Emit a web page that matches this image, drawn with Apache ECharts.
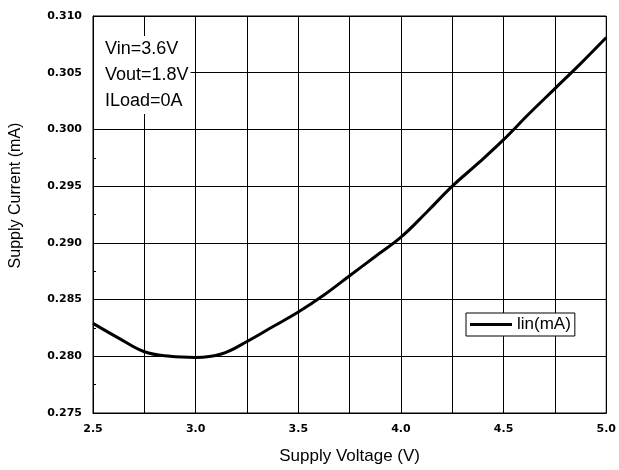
<!DOCTYPE html>
<html><head><meta charset="utf-8">
<script src="https://cdn.jsdelivr.net/npm/echarts@6/dist/echarts.min.js"></script>
<style>html,body{margin:0;padding:0;background:#fff}#c{width:619px;height:470px}</style>
</head><body><div id="c"></div>
<script>
const voltages = [2.5, 2.625, 2.75, 2.875, 3.0, 3.125, 3.25, 3.375, 3.5, 3.625, 3.75, 3.875, 4.0, 4.125, 4.25, 4.375, 4.5, 4.625, 4.75, 4.875, 5.0];
const currents = [0.2829, 0.2816, 0.2804, 0.2800, 0.2799, 0.2802, 0.2813, 0.2826, 0.2839, 0.2854, 0.2871, 0.2888, 0.2905, 0.2927, 0.2950, 0.2970, 0.2991, 0.3014, 0.3036, 0.3058, 0.3081];
const seriesName = 'lin(mA)';
const notes = ['Vin=3.6V', 'Vout=1.8V', 'ILoad=0A'];
const xTitle = 'Supply Voltage (V)';
const yTitle = 'Supply Current (mA)';

const font = 'Liberation Sans, Arial, sans-serif';
const tickFont = 'DejaVu Sans, sans-serif';
const chart = echarts.init(document.getElementById('c'), null, {renderer: 'canvas'});
chart.setOption({
  animation: false,
  backgroundColor: '#fff',
  grid: {left: 93, right: 10, top: 16, bottom: 57, show: true, borderColor: '#000', borderWidth: 1},
  legend: {
    data: [{name: seriesName, icon: 'rect'}],
    left: 466, top: 313,
    itemWidth: 42, itemHeight: 3, itemGap: 4,
    borderColor: '#000', borderWidth: 1, borderRadius: 0,
    backgroundColor: '#fff', padding: [3, 4, 3, 4],
    textStyle: {fontFamily: font, fontSize: 17, color: '#000'}
  },
  xAxis: {
    type: 'value', min: 2.5, max: 5.0, interval: 0.25,
    name: xTitle, nameLocation: 'middle', nameGap: 35,
    nameTextStyle: {fontFamily: font, fontSize: 17, color: '#000'},
    axisLine: {show: true, lineStyle: {color: '#000'}},
    axisTick: {show: false},
    splitLine: {show: true, lineStyle: {color: '#000', width: 1}},
    axisLabel: {
      fontFamily: tickFont, fontSize: 11, fontWeight: 'bold', color: '#000', margin: 11,
      formatter: v => (Math.abs(v * 2 - Math.round(v * 2)) < 1e-6 ? v.toFixed(1) : '')
    }
  },
  yAxis: {
    type: 'value', min: 0.275, max: 0.310, interval: 0.005,
    name: yTitle, nameLocation: 'middle', nameGap: 69,
    nameTextStyle: {fontFamily: font, fontSize: 16, color: '#000', padding: [0, 0, 0, 38]},
    axisLine: {show: true, lineStyle: {color: '#000'}},
    axisTick: {show: true, inside: true, length: 3, lineStyle: {color: '#000'}},
    minorTick: {show: true, splitNumber: 2, length: 3, lineStyle: {color: '#000'}},
    splitLine: {show: true, lineStyle: {color: '#000', width: 1}},
    axisLabel: {fontFamily: tickFont, fontSize: 11, fontWeight: 'bold', color: '#000', margin: 11, formatter: v => v.toFixed(3)}
  },
  graphic: [{
    type: 'text', left: 94, top: 36, z: 100,
    style: {
      text: notes.join('\n'), fontFamily: font, fontSize: 18, lineHeight: 26,
      fill: '#000', backgroundColor: '#fff', padding: [0, 2, 0, 11]
    }
  }],
  series: [{
    name: seriesName, type: 'line', smooth: 0.4, showSymbol: false,
    data: voltages.map((v, i) => [v, currents[i]]),
    lineStyle: {color: '#000', width: 3},
    itemStyle: {color: '#000'}
  }]
});
</script></body></html>
